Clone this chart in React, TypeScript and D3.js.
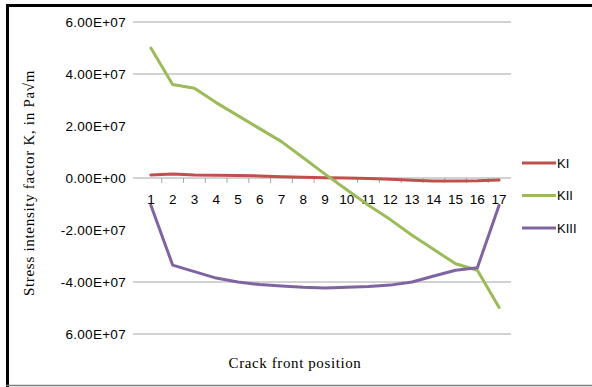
import React, { useEffect, useRef } from "react";
import * as d3 from "d3";

// crack front positions
const positions = [1, 2, 3, 4, 5, 6, 7, 8, 9, 10, 11, 12, 13, 14, 15, 16, 17];

const kI = [1.2e6, 1.5e6, 1.2e6, 1.1e6, 1.0e6, 0.8e6, 0.5e6, 0.3e6, 0.1e6, 0, -0.2e6, -0.5e6, -0.9e6, -1.2e6, -1.2e6, -1.1e6, -0.8e6];
const kII = [5.0e7, 3.6e7, 3.45e7, 2.9e7, 2.4e7, 1.9e7, 1.4e7, 0.78e7, 0.15e7, -0.45e7, -1.05e7, -1.6e7, -2.2e7, -2.75e7, -3.3e7, -3.55e7, -4.98e7];
const kIII = [-1.05e7, -3.35e7, -3.6e7, -3.85e7, -4.0e7, -4.1e7, -4.15e7, -4.2e7, -4.23e7, -4.2e7, -4.17e7, -4.12e7, -4.0e7, -3.77e7, -3.55e7, -3.45e7, -1.05e7];

const seriesNames = ["KI", "KII", "KIII"];
const seriesColors = ["#c0504d", "#9bbb59", "#8064a2"];

// y ticks as printed in the picture
const yTicks = [6e7, 4e7, 2e7, 0, -2e7, -4e7, -6e7];
const yTickLabels = ["6.00E+07", "4.00E+07", "2.00E+07", "0.00E+00", "-2.00E+07", "-4.00E+07", "6.00E+07"];
const gridTicks = [6e7, 4e7, -4e7, -6e7];

export default function App() {
  const ref = useRef<SVGSVGElement>(null);

  useEffect(() => {
    const svg = d3.select(ref.current);
    svg.selectAll("*").remove();

    const x = d3.scaleBand<number>().domain(positions).range([140, 510]);
    const y = d3.scaleLinear().domain([-6e7, 6e7]).range([334, 22]);
    const cx = (d: number) => (x(d) as number) + x.bandwidth() / 2;

    // frame
    svg.append("line").attr("x1", 6).attr("x2", 592).attr("y1", 5.5).attr("y2", 5.5)
      .attr("stroke", "#000").attr("stroke-width", 3);
    svg.append("line").attr("x1", 7.5).attr("x2", 7.5).attr("y1", 4).attr("y2", 387)
      .attr("stroke", "#000").attr("stroke-width", 3);
    svg.append("line").attr("x1", 6).attr("x2", 592).attr("y1", 385.5).attr("y2", 385.5)
      .attr("stroke", "#808080").attr("stroke-width", 1.5);

    // gridlines
    svg.append("g").selectAll("line").data(gridTicks).enter().append("line")
      .attr("x1", 133).attr("x2", 511)
      .attr("y1", d => y(d)).attr("y2", d => y(d))
      .attr("stroke", "#a6a6a6").attr("stroke-width", 1);

    // category axis on zero line
    const xAxis = d3.axisBottom(x).tickSize(0).tickPadding(16);
    const gx = svg.append("g").attr("transform", "translate(0," + y(0) + ")").call(xAxis);
    gx.select(".domain").remove();
    gx.selectAll("text").attr("font-family", "'Liberation Sans', Arial, sans-serif")
      .attr("font-size", 13.5).attr("fill", "#000");
    svg.append("line").attr("x1", 133).attr("x2", 511).attr("y1", y(0)).attr("y2", y(0))
      .attr("stroke", "#a6a6a6");
    svg.append("g").selectAll("line").data(positions.slice(0, 16)).enter().append("line")
      .attr("x1", d => (x(d) as number) + x.step()).attr("x2", d => (x(d) as number) + x.step())
      .attr("y1", y(0)).attr("y2", y(0) + 5)
      .attr("stroke", "#a6a6a6");

    // y tick labels
    svg.append("g").selectAll("text").data(yTicks).enter().append("text")
      .attr("x", 126).attr("y", d => y(d)).attr("dy", "0.35em")
      .attr("text-anchor", "end")
      .attr("font-family", "'Liberation Sans', Arial, sans-serif").attr("font-size", 13.5)
      .attr("letter-spacing", 0.3)
      .text((d, i) => yTickLabels[i]);

    // lines
    const line = d3.line<number>()
      .x((d, i) => cx(positions[i]))
      .y(d => y(d));
    [kI, kII, kIII].forEach((s, i) => {
      svg.append("path").datum(s).attr("d", line)
        .attr("fill", "none").attr("stroke", seriesColors[i])
        .attr("stroke-width", 3).attr("stroke-linejoin", "round").attr("stroke-linecap", "round");
    });

    // legend
    const lg = svg.append("g").selectAll("g").data(seriesNames).enter().append("g")
      .attr("transform", (d, i) => "translate(522," + (163 + i * 32.5) + ")");
    lg.append("line").attr("x1", 0).attr("x2", 34).attr("y1", 0).attr("y2", 0)
      .attr("stroke", (d, i) => seriesColors[i]).attr("stroke-width", 3);
    lg.append("text").attr("x", 35).attr("dy", "0.35em")
      .attr("font-family", "'Liberation Sans', Arial, sans-serif").attr("font-size", 13)
      .text(d => d);

    // titles
    svg.append("text").attr("x", 295).attr("y", 368).attr("text-anchor", "middle")
      .attr("font-family", "'Liberation Serif', 'Times New Roman', serif").attr("font-size", 15)
      .attr("letter-spacing", 0.6)
      .text("Crack front position");
    svg.append("text").attr("transform", "translate(34,183) rotate(-90)").attr("text-anchor", "middle")
      .attr("font-family", "'Liberation Serif', 'Times New Roman', serif").attr("font-size", 15)
      .attr("letter-spacing", 0.7)
      .text("Stress intensity factor  K, in Pa\u221Am");
  }, []);

  return (
    <svg ref={ref} width={592} height={387} style={{ position: "absolute", left: 0, top: 0, background: "#fff" }} />
  );
}
